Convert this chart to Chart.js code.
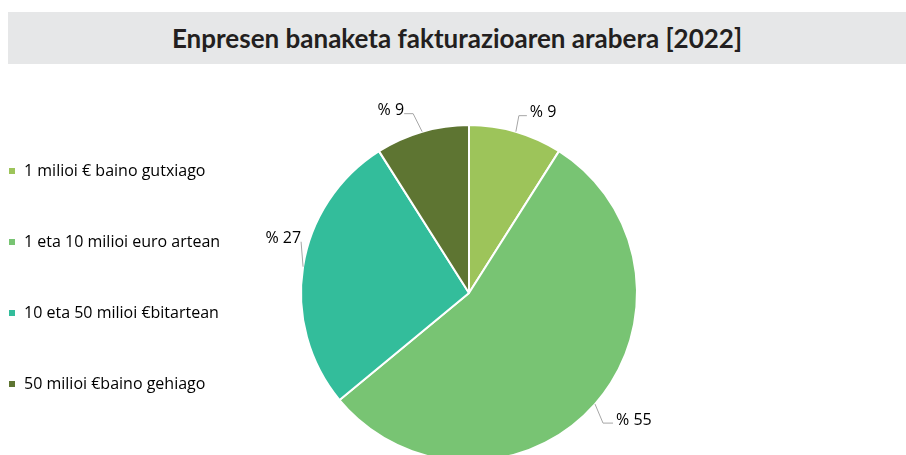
<!DOCTYPE html>
<html>
<head>
<meta charset="utf-8">
<script src="https://cdn.jsdelivr.net/npm/chart.js@4"></script>
<style>
  html, body { margin: 0; padding: 0; width: 906px; height: 455px; overflow: hidden; background: #fff; position: relative; }
  #title {
    position: absolute; left: 8px; top: 12px; width: 898px; height: 52px;
    background: #e6e7e8; color: #231f20;
    font: bold 26px Lato, "DejaVu Sans", sans-serif;
    display: flex; align-items: center; justify-content: center;
  }
  #wrap { position: absolute; left: -47px; top: 0; width: 1032px; height: 526px; }
</style>
</head>
<body>
<div id="title">Enpresen banaketa fakturazioaren arabera [2022]</div>
<div id="wrap"><canvas id="myChart"></canvas></div>
<script>
const categories = [
  '1 milioi € baino gutxiago',
  '1 eta 10 milioi euro artean',
  '10 eta 50 milioi €bitartean',
  '50 milioi €baino gehiago'
];
const shares = [9, 55, 27, 9];
const colors = ['#9dc45a', '#78c473', '#33bd9b', '#5e7532'];

// leader line elbow offset from arc edge, tail length (negative = text on left)
const labelOffsets = [[3, -16], [8, 19], [-2, -25], [-9, -18]];
const labelTails = [8, 10, 0, -9];

const leaderLabels = {
  id: 'leaderLabels',
  afterDatasetsDraw(chart) {
    const ctx = chart.ctx;
    const meta = chart.getDatasetMeta(0);
    ctx.save();
    ctx.font = '16px "Open Sans", sans-serif';
    ctx.textBaseline = 'middle';
    meta.data.forEach((arc, i) => {
      const mid = (arc.startAngle + arc.endAngle) / 2;
      const px = arc.x + Math.cos(mid) * arc.outerRadius;
      const py = arc.y + Math.sin(mid) * arc.outerRadius;
      const ex = px + labelOffsets[i][0];
      const ey = py + labelOffsets[i][1];
      const tx = ex + labelTails[i];
      ctx.strokeStyle = '#a6a6a6';
      ctx.lineWidth = 1;
      ctx.beginPath();
      ctx.moveTo(px, py);
      ctx.lineTo(ex, ey);
      ctx.lineTo(tx, ey);
      ctx.stroke();
      ctx.fillStyle = '#000';
      const right = labelTails[i] <= 0;
      ctx.textAlign = right ? 'right' : 'left';
      ctx.fillText('% ' + shares[i], right ? tx : tx + 3, ey - 3);
    });
    ctx.restore();
  }
};

const ctx = document.getElementById('myChart').getContext('2d');

const myChart = new Chart(ctx, {
  type: 'pie',
  data: {
    labels: categories,
    datasets: [{
      data: shares,
      backgroundColor: colors,
      borderColor: '#ffffff',
      borderWidth: 2
    }]
  },
  options: {
    responsive: true,
    maintainAspectRatio: false,
    animation: false,
    radius: 168,
    layout: { padding: { top: 60, left: 0, right: 0, bottom: 0 } },
    plugins: {
      legend: {
        display: true,
        position: 'chartArea',
        align: 'start',
        title: {
          display: true,
          text: ' ',
          font: { size: 10 },
          padding: { top: 96, bottom: 0 }
        },
        labels: {
          color: '#000',
          boxWidth: 8,
          boxHeight: 8,
          padding: 55,
          font: { size: 16, family: '"Open Sans", sans-serif' }
        }
      },
      tooltip: { enabled: false }
    }
  },
  plugins: [leaderLabels]
});
</script>
</body>
</html>
